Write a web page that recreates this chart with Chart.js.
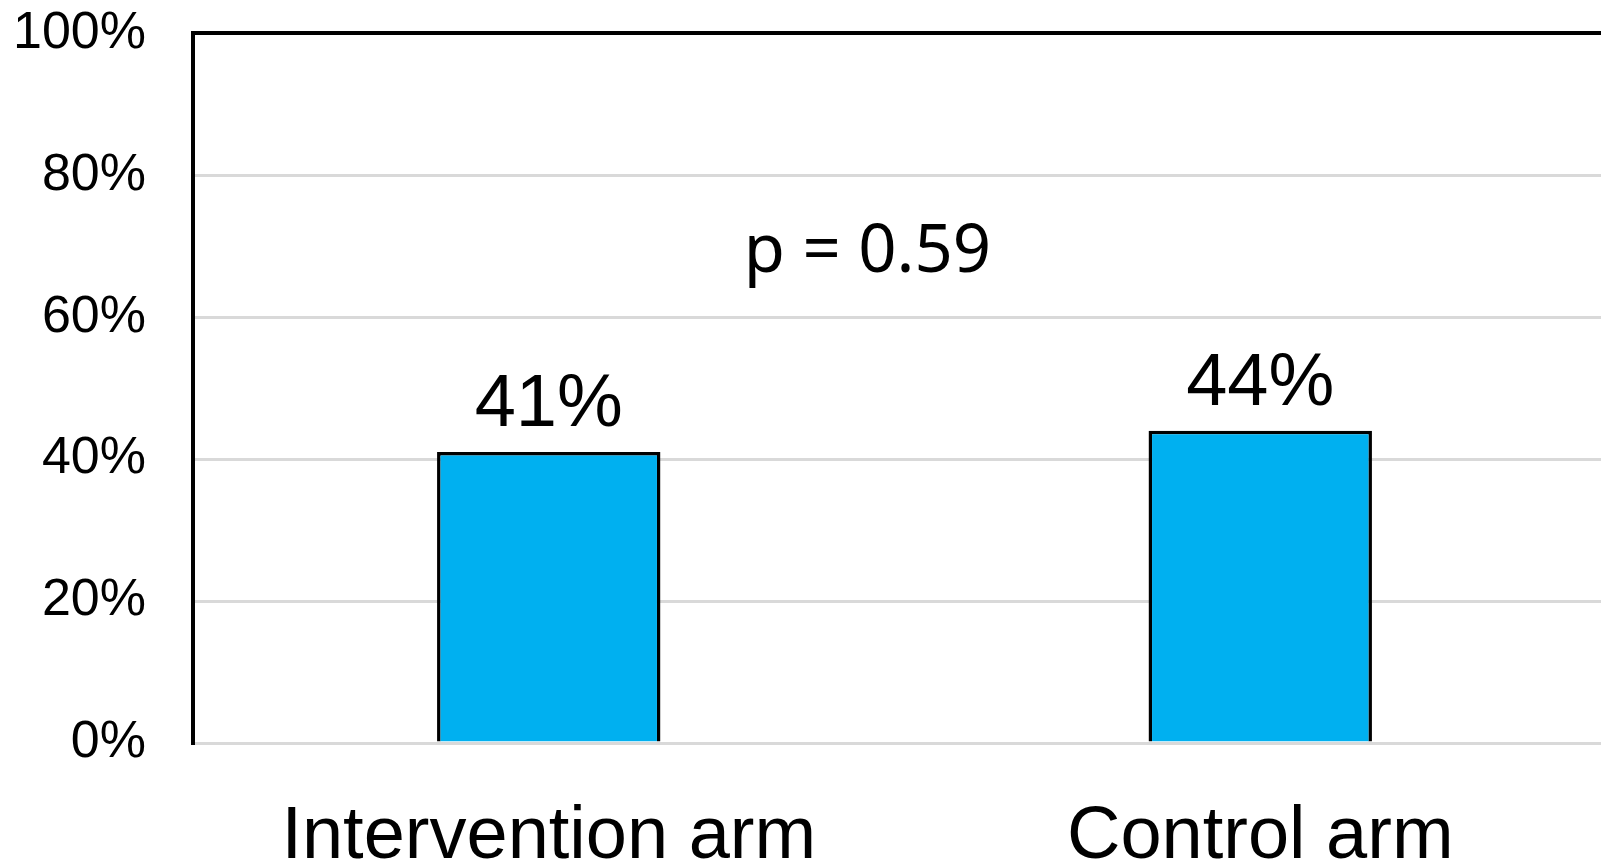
<!DOCTYPE html>
<html>
<head>
<meta charset="utf-8">
<script src="https://cdn.jsdelivr.net/npm/chart.js@4"></script>
<style>
  html, body { margin: 0; padding: 0; background: #fff; overflow: hidden; }
  #chart-1 { display: block; }
</style>
</head>
<body>
<canvas id="chart-1" width="1616" height="865"></canvas>
<script>
const categories = ["Intervention arm", "Control arm"];
const responseRate = [41, 44];
const yTicks = [0, 20, 40, 60, 80, 100];
const pValueText = "p = 0.59";

// labels over each bar + the p value
const barLabels = {
  id: "barLabels",
  afterDatasetsDraw(chart) {
    const c = chart.ctx;
    const meta = chart.getDatasetMeta(0);
    c.save();
    c.fillStyle = "#000";
    c.textAlign = "center";
    c.textBaseline = "alphabetic";
    c.font = "74px 'Liberation Sans', Arial, sans-serif";
    meta.data.forEach((bar, i) => {
      c.fillText(responseRate[i] + "%", bar.x, bar.y - 26);
    });
    const x = chart.scales.x.getPixelForValue(0.448);
    const y = chart.scales.y.getPixelForValue(66.3);
    c.font = "67px 'Noto Sans', 'Open Sans', sans-serif";
    c.fillText(pValueText, x, y);
    c.restore();
  },
};

const ctx1 = document.getElementById("chart-1").getContext("2d");
const myChart = new Chart(ctx1, {
  type: "bar",
  data: {
    labels: categories,
    datasets: [
      {
        data: responseRate,
        backgroundColor: "#00b0f0",
        borderColor: "#000",
        borderWidth: 3.5,
        borderSkipped: "bottom",
        categoryPercentage: 1,
        barPercentage: 0.314,
      },
    ],
  },
  options: {
    responsive: false,
    animation: false,
    layout: { padding: 0 },
    plugins: {
      legend: { display: false },
      tooltip: { enabled: false },
    },
    scales: {
      x: {
        grid: { display: false, drawTicks: false },
        border: { color: "#d9d9d9", width: 3 },
        ticks: {
          color: "#000",
          padding: 50,
          font: { family: "'Liberation Sans', Arial, sans-serif", size: 74 },
        },
        afterFit(scale) { scale.height = 122; },
      },
      xTop: {
        position: "top",
        grid: { display: false, drawTicks: false },
        border: { color: "#000", width: 4 },
        ticks: { display: false },
        afterFit(scale) { scale.height = 0; },
      },
      y: {
        min: 0,
        max: 100,
        afterBuildTicks(scale) {
          scale.ticks = yTicks.map((v) => ({ value: v }));
        },
        grid: {
          color: "#d9d9d9",
          lineWidth: 3,
          drawTicks: true,
          tickLength: 47,
          tickColor: "rgba(0,0,0,0)",
        },
        border: { color: "#000", width: 4 },
        ticks: {
          color: "#000",
          padding: 0,
          font: { family: "'Liberation Sans', Arial, sans-serif", size: 52, lineHeight: 1.28 },
          callback: (v) => v + "%",
        },
        afterFit(scale) { scale.width = 193; },
      },
    },
  },
  plugins: [barLabels],
});
</script>
</body>
</html>
